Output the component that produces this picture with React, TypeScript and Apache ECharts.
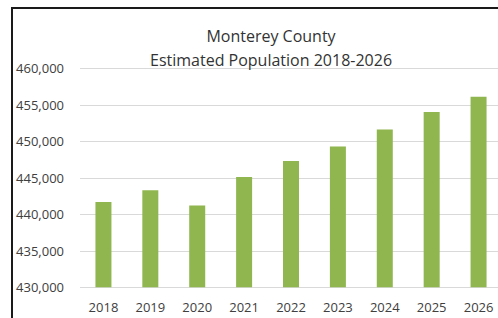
import React, { useEffect, useRef } from "react";
import * as echarts from "echarts";

const years = ["2018", "2019", "2020", "2021", "2022", "2023", "2024", "2025", "2026"];
const population = [441700, 443300, 441200, 445100, 447300, 449300, 451600, 454000, 456100];
const titleLines = ["Monterey County", "Estimated Population 2018-2026"];

export default function App() {
  const ref = useRef<HTMLDivElement>(null);
  useEffect(() => {
    if (!ref.current) return;
    const chart = echarts.init(ref.current, null, { renderer: "svg" });
    chart.setOption({
      animation: false,
      backgroundColor: "#ffffff",
      title: {
        text: titleLines.join("\n"),
        left: 271,
        top: 24,
        padding: 0,
        textAlign: "center",
        textStyle: {
          fontFamily: "Open Sans",
          fontSize: 16,
          fontWeight: "normal",
          color: "#333333",
          lineHeight: 24,
        },
      },
      grid: { left: 80, right: 4, top: 68.3, bottom: 30.7 },
      xAxis: {
        type: "category",
        data: years,
        axisLine: { show: false },
        axisTick: { show: false },
        splitLine: { show: false },
        axisLabel: {
          margin: 13,
          fontFamily: "Open Sans",
          fontSize: 13,
          color: "#404040",
        },
      },
      yAxis: {
        type: "value",
        min: 430000,
        max: 460000,
        interval: 5000,
        axisLine: { show: false },
        axisTick: { show: false },
        splitLine: { lineStyle: { color: "#d9d9d9", width: 1 } },
        axisLabel: {
          margin: 16,
          fontFamily: "Open Sans",
          fontSize: 13,
          color: "#404040",
          formatter: (v: number) => v.toLocaleString("en-US"),
        },
      },
      series: [
        {
          type: "bar",
          data: population,
          barWidth: 16,
          itemStyle: { color: "#8fb64f" },
        },
      ],
      graphic: [
        { type: "rect", shape: { x: 11, y: 7, width: 495, height: 2 }, style: { fill: "#1a1a1a" }, z: 100 },
        { type: "rect", shape: { x: 11, y: 7, width: 2, height: 311 }, style: { fill: "#1a1a1a" }, z: 100 },
      ],
    });
    return () => chart.dispose();
  }, []);
  return (
    <div style={{ position: "absolute", left: 0, top: 0, width: 498, height: 318, overflow: "hidden" }}>
      <div ref={ref} style={{ width: 506, height: 318 }} />
    </div>
  );
}
